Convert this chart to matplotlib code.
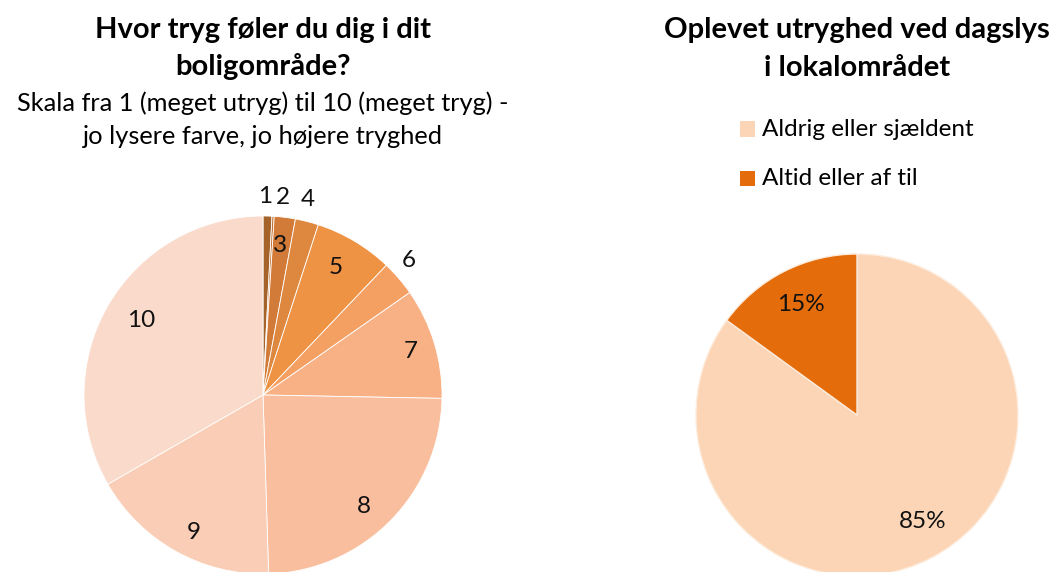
import numpy as np
import matplotlib.pyplot as plt

plt.rcParams['font.family'] = ['Lato', 'DejaVu Sans']

# venstre: tryghed i boligområdet (skala 1-10)
scale_labels = ["1", "2", "3", "4", "5", "6", "7", "8", "9", "10"]
scale_share = [0.8, 0.2, 1.9, 2.1, 7.1, 3.2, 10.0, 24.2, 17.2, 33.3]
scale_colors = ["#A5632A", "#C2702F", "#D27B38", "#DE873F", "#EE9244",
                "#F5A063", "#F8B185", "#F9BE9E", "#F9CDB6", "#FADBCB"]

# højre: oplevet utryghed ved dagslys
day_labels = ["Aldrig eller sjældent", "Altid eller af til"]
day_share = [85, 15]
day_colors = ["#FBD5B5", "#E46C0A"]

W, H = 1054, 572
fig = plt.figure(figsize=(W / 100, H / 100), dpi=100)


def pie_axes(cx, cy, r):
    ax = fig.add_axes([(cx - r) / W, (H - cy - r) / H, 2 * r / W, 2 * r / H])
    return ax


def fix_limits(ax):
    ax.set_xlim(-1, 1)
    ax.set_ylim(-1, 1)
    ax.set_aspect("equal")
    ax.axis("off")


def put_labels(ax, wedges, labels, dist, nudge, size):
    for w, lab, d, n in zip(wedges, labels, dist, nudge):
        ang = np.deg2rad((w.theta1 + w.theta2) / 2 + n)
        ax.text(d * np.cos(ang), d * np.sin(ang), lab, ha="center", va="center",
                fontsize=size, color="#111111", clip_on=False)


# venstre cirkel
ax1 = pie_axes(263, 395, 179)
w1, _ = ax1.pie(scale_share, colors=scale_colors, startangle=90, counterclock=False,
                radius=1, wedgeprops=dict(edgecolor="white", linewidth=0.6))
fix_limits(ax1)
for w in w1:
    w.set_clip_on(False)
dist1 = [1.11, 1.11, 0.84, 1.12, 0.82, 1.11, 0.86, 0.84, 0.86, 0.80]
nudge1 = [0.8, -2.6, 0.5, 1.2, 1.1, 2.1, -0.6, -3.4, 2.5, -1.4]
put_labels(ax1, w1, scale_labels, dist1, nudge1, 17.5)

# højre cirkel
ax2 = pie_axes(857, 415, 161)
w2, _ = ax2.pie(day_share, colors=day_colors, startangle=90, counterclock=False,
                radius=1, wedgeprops=dict(edgecolor="#FDEBDC", linewidth=1.0))
fix_limits(ax2)
for w in w2:
    w.set_clip_on(False)
put_labels(ax2, w2, [f"{v}%" for v in day_share], [0.78, 0.77], [4.7, 0], 17.5)

# titler
fig.text(263 / W, 1 - 30 / H, "Hvor tryg føler du dig i dit", ha="center", va="center",
         fontsize=21, fontweight="bold")
fig.text(263 / W, 1 - 67 / H, "boligområde?", ha="center", va="center",
         fontsize=21, fontweight="bold")
fig.text(263 / W, 1 - 103 / H, "Skala fra 1 (meget utryg) til 10 (meget tryg) -",
         ha="center", va="center", fontsize=18.3)
fig.text(263 / W, 1 - 137 / H, "jo lysere farve, jo højere tryghed",
         ha="center", va="center", fontsize=18.3)

fig.text(857 / W, 1 - 30 / H, "Oplevet utryghed ved dagslys", ha="center", va="center",
         fontsize=21, fontweight="bold")
fig.text(857 / W, 1 - 68 / H, "i lokalområdet", ha="center", va="center",
         fontsize=21, fontweight="bold")

# forklaring
for i, (lab, col) in enumerate(zip(day_labels, day_colors)):
    y = 129 + 49 * i
    fig.patches.append(plt.Rectangle((740 / W, 1 - (y + 7.5) / H), 15 / W, 15 / H,
                                     transform=fig.transFigure, facecolor=col,
                                     edgecolor="none"))
    fig.text(762 / W, 1 - y / H, lab, ha="left", va="center", fontsize=17.5)

fig.savefig("out.png", dpi=100, facecolor="white")
